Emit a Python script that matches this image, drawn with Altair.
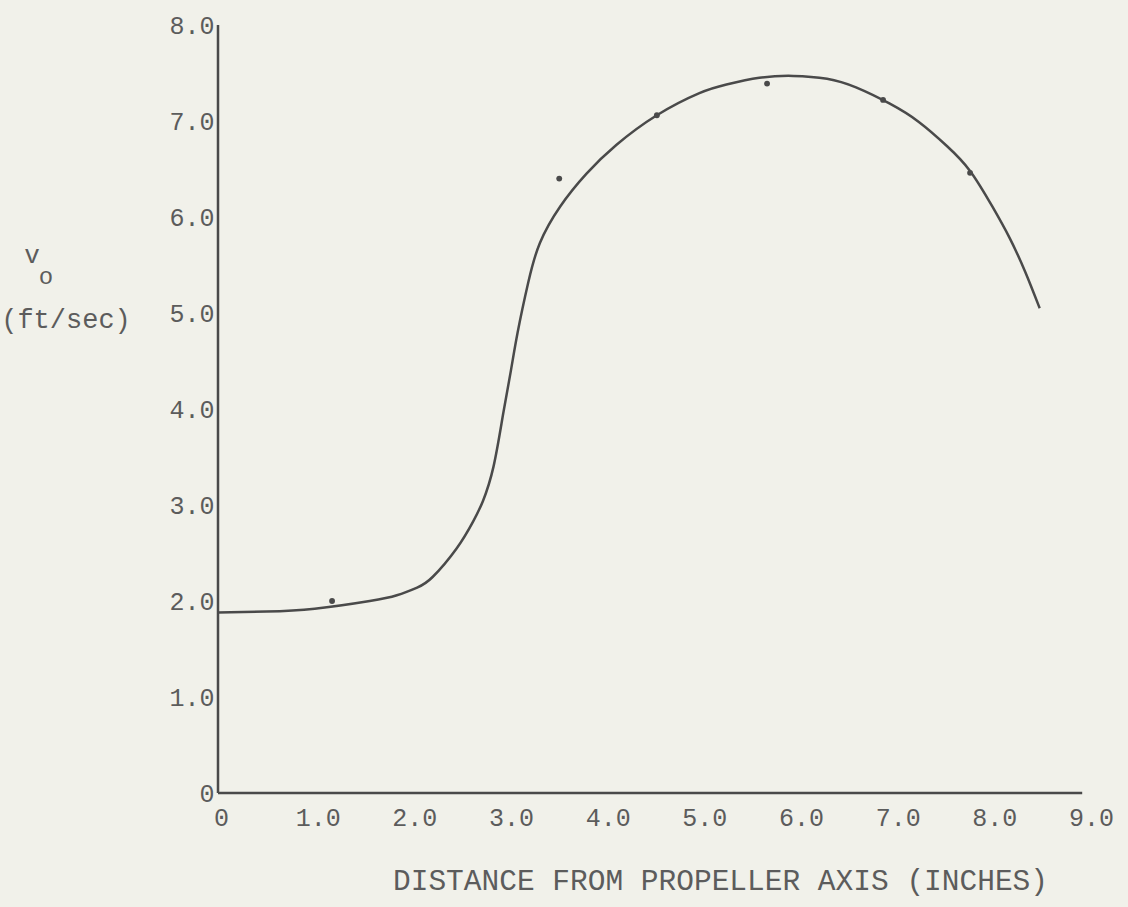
import altair as alt
import pandas as pd

# Smooth curve
curve_x = [0, 0.5, 1.0, 1.57, 1.85, 2.06, 2.22, 2.47, 2.64, 2.74, 2.85, 2.95, 3.03, 3.10, 3.21, 3.33,
           3.54, 3.81, 4.12, 4.54, 4.98, 5.26, 5.6, 5.95, 6.3, 6.6, 6.95, 7.25, 7.54, 7.78,
           8.01, 8.19, 8.35, 8.50]
curve_y = [1.88, 1.89, 1.92, 2.0, 2.06, 2.14, 2.25, 2.55, 2.83, 3.04, 3.4, 3.95, 4.4, 4.8, 5.32, 5.73,
           6.11, 6.45, 6.75, 7.06, 7.29, 7.38, 7.45, 7.47, 7.44, 7.35, 7.18, 6.99, 6.74, 6.48,
           6.11, 5.78, 5.43, 5.05]

# Measured points
pt_x = [1.18, 3.53, 4.54, 5.68, 6.88, 7.78]
pt_y = [2.0, 6.4, 7.06, 7.39, 7.22, 6.46]

x_ticks = [0, 1, 2, 3, 4, 5, 6, 7, 8, 9]
y_ticks = [0, 1, 2, 3, 4, 5, 6, 7, 8]

y_title_parts = ["v", "o", "(ft/sec)"]
x_title = "DISTANCE FROM PROPELLER AXIS (INCHES)"

FONT = "Liberation Mono"
INK = "#4a4a4a"
TXT = "#5c5c5c"
BG = "#f1f1ea"

curve = pd.DataFrame({"x": curve_x, "y": curve_y})
pts = pd.DataFrame({"x": pt_x, "y": pt_y})

xs = alt.Scale(domain=[0, 9], nice=False, zero=False)
ys = alt.Scale(domain=[0, 8], nice=False, zero=False)

lab = "datum.value == 0 ? '0' : format(datum.value, '.1f')"

xaxis = alt.Axis(values=x_ticks, labelExpr=lab, domain=False, ticks=False, tickSize=0,
                 grid=False, labelFont=FONT, labelFontSize=25, labelColor=TXT,
                 labelBaseline="middle", labelPadding=24, labelOffset=3, labelFlush=False,
                 title=x_title, titleFont=FONT,
                 titleFontSize=29.5, titleFontWeight="normal", titleColor=TXT,
                 titleX=502, titleY=87, titleAnchor="start", titleAlign="center",
                 titleBaseline="middle")
yaxis = alt.Axis(values=y_ticks, labelExpr=lab, domain=False, ticks=False, tickSize=0,
                 grid=False, labelFont=FONT, labelFontSize=25, labelColor=TXT,
                 labelBaseline="middle", labelPadding=4, labelFlush=False, title=None)

line = alt.Chart(curve).mark_line(color=INK, strokeWidth=2.5, interpolate="natural").encode(
    x=alt.X("x:Q", scale=xs, axis=xaxis),
    y=alt.Y("y:Q", scale=ys, axis=yaxis),
)

dots = alt.Chart(pts).mark_circle(color=INK, size=34, opacity=1).encode(
    x=alt.X("x:Q", scale=xs),
    y=alt.Y("y:Q", scale=ys),
)

xline = alt.Chart(pd.DataFrame({"x": [0], "x2": [8.94], "y": [0]})).mark_rule(
    color=INK, strokeWidth=2.5).encode(x=alt.X("x:Q", scale=xs), x2="x2:Q", y=alt.Y("y:Q", scale=ys))
yline = alt.Chart(pd.DataFrame({"x": [0], "y": [0], "y2": [8.0]})).mark_rule(
    color=INK, strokeWidth=2.5).encode(x=alt.X("x:Q", scale=xs), y=alt.Y("y:Q", scale=ys), y2="y2:Q")

title_df = pd.DataFrame({"t": y_title_parts, "px": [-186, -172, -152], "py": [230, 252, 295],
                         "fs": [26, 24, 27]})
ytitle = alt.Chart(title_df).mark_text(font=FONT, color=TXT, align="center", baseline="middle").encode(
    text="t:N",
    x=alt.X("px:Q", scale=None),
    y=alt.Y("py:Q", scale=None),
    size=alt.Size("fs:Q", scale=None, legend=None),
)

chart = alt.layer(yline, xline, line, dots, ytitle).properties(
    width=870, height=768,
    autosize=alt.AutoSizeParams(type="none"),
    padding={"left": 218, "top": 25, "right": 40, "bottom": 114},
    background=BG,
).configure_view(stroke=None)

chart.save("out.html", embed_options={"renderer": "svg", "actions": False})
